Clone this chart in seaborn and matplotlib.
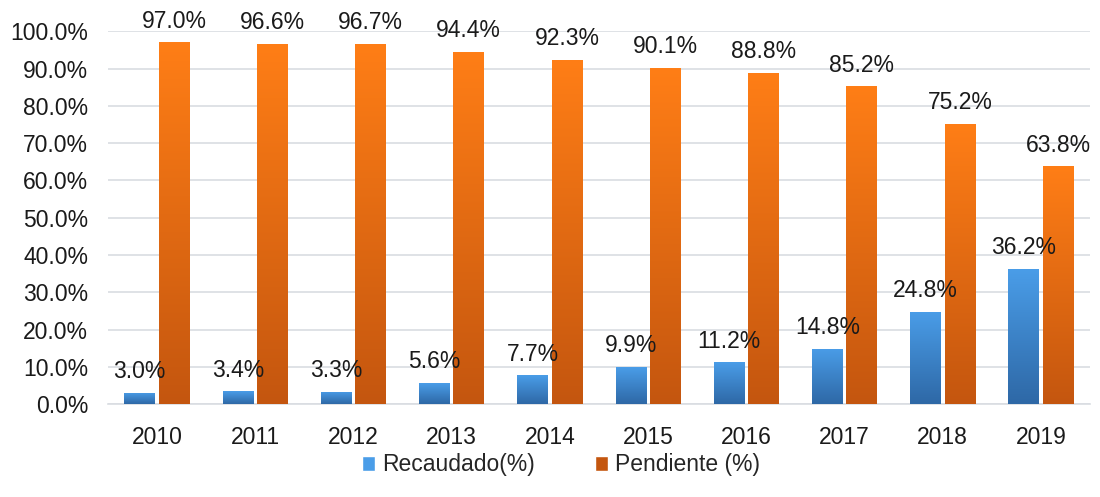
import numpy as np
import pandas as pd
import matplotlib
matplotlib.use("Agg")
import matplotlib.pyplot as plt
import seaborn as sns
from matplotlib.colors import LinearSegmentedColormap
from matplotlib.patches import Patch

years = ["2010", "2011", "2012", "2013", "2014", "2015", "2016", "2017", "2018", "2019"]
recaudado = [3.0, 3.4, 3.3, 5.6, 7.7, 9.9, 11.2, 14.8, 24.8, 36.2]
pendiente = [97.0, 96.6, 96.7, 94.4, 92.3, 90.1, 88.8, 85.2, 75.2, 63.8]
series = ["Recaudado(%)", "Pendiente (%)"]
colors_top = ["#4A9DE8", "#FF7E16"]
colors_bot = ["#2E68A6", "#C4560F"]

df = pd.DataFrame({
    "year": years * 2,
    "value": recaudado + pendiente,
    "serie": [series[0]] * len(years) + [series[1]] * len(years),
})

sns.set_theme(style="white")
plt.rcParams["font.family"] = ["Liberation Sans", "DejaVu Sans"]

FS = 16.5
fig = plt.figure(figsize=(11, 4.97), dpi=100)
ax = fig.add_axes([0.098, 0.187, 0.893, 0.75])

sns.barplot(data=df, x="year", y="value", hue="serie", hue_order=series,
            palette=colors_top, width=0.7, gap=0.11, ax=ax, legend=False,
            zorder=3, linewidth=0)

ax.set_ylim(0, 100)
ax.set_xlim(-0.5, len(years) - 0.5)
ax.set_yticks(np.arange(0, 101, 10))
ax.set_yticklabels([f"{v:.1f}%" for v in np.arange(0, 101, 10)], fontsize=FS, color="#1a1a1a")
ax.tick_params(axis="x", labelsize=FS, colors="#1a1a1a", pad=16)
ax.tick_params(axis="y", pad=14, length=0)
ax.tick_params(axis="x", length=0)
ax.set_xlabel("")
ax.set_ylabel("")
ax.yaxis.grid(True, color="#D9DDE2", linewidth=1.2, zorder=0)
ax.set_axisbelow(True)
for s in ["top", "right", "left"]:
    ax.spines[s].set_visible(False)
ax.spines["bottom"].set_color("#D9DDE2")
ax.spines["bottom"].set_linewidth(1.2)

# gradient fill for each bar
for container, ctop, cbot in zip(ax.containers, colors_top, colors_bot):
    cmap = LinearSegmentedColormap.from_list("g", [cbot, ctop])
    grad = np.linspace(0, 1, 256).reshape(-1, 1)
    for bar in container:
        x0, y0 = bar.get_x(), bar.get_y()
        w, h = bar.get_width(), bar.get_height()
        im = ax.imshow(grad, cmap=cmap, aspect="auto", origin="lower",
                       extent=[x0, x0 + w, y0, y0 + h], zorder=3)
        im.set_clip_path(bar)
    ax.bar_label(container, labels=[f"{v:.1f}%" for v in container.datavalues],
                 padding=7, fontsize=FS, color="#1a1a1a", zorder=5)

ax.set_xlim(-0.5, len(years) - 0.5)
ax.set_ylim(0, 100)

handles = [Patch(facecolor=colors_top[0]), Patch(facecolor=colors_bot[1])]
fig.legend(handles, series, loc="lower center", bbox_to_anchor=(0.51, 0.0),
           ncol=2, frameon=False, fontsize=FS, handlelength=0.6, handleheight=0.6,
           handletextpad=0.3, columnspacing=2.6)

fig.savefig("out.png", dpi=100)
